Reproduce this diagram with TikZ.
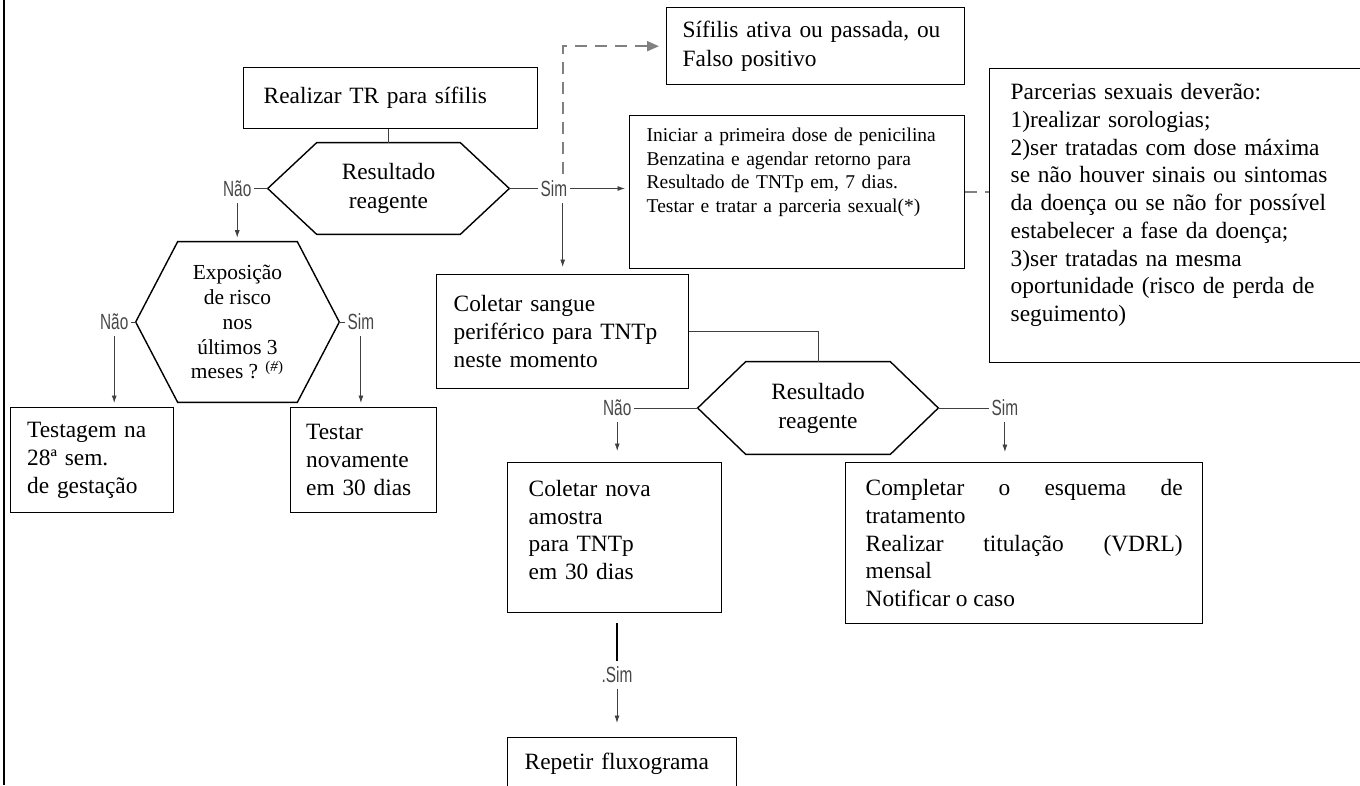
\documentclass[tikz,border=0pt]{standalone}
\usepackage{fontspec}
\setmainfont{Liberation Serif}
\newfontfamily\lblfont[FakeStretch=0.7]{Liberation Sans}
\usetikzlibrary{positioning,arrows.meta}
\hyphenpenalty=10000
\tolerance=10000
\tikzset{
	caixa/.style = {
		shape=rectangle,
		draw,
		line width=0.8pt,
		anchor=north west,
		align=left,
		inner ysep=0pt,
		font=\fontsize{13.3}{15.8}\selectfont
	},
	hexa/.style = {
		align=center,
		inner sep=0pt,
		font=\fontsize{13.3}{16.5}\selectfont
	},
	rotulo/.style = {
		font=\lblfont\fontsize{12.5}{12.5}\selectfont,
		text=black!72,
		inner xsep=0.04cm,
		inner ysep=0.12cm
	},
	liga/.style = {draw=black!75, line width=0.5pt},
	seta/.style = {liga, -{Latex[length=0.15cm,width=0.1cm]}, shorten >=0.08cm},
	tracejado/.style = {draw=gray, line width=1.1pt, dash pattern=on 0.24cm off 0.16cm}
}

\begin{document}
\begin{tikzpicture}[x=0.02cm, y=-0.02cm]
	\useasboundingbox (0,0) rectangle (1360,785);
	\draw[line width=1.4pt] (4,0) -- (4,785);

	% caixas de texto
	\node[caixa, text width=5.32cm, inner xsep=0.32cm, minimum height=1.54cm,
		font=\fontsize{13.3}{16.4}\selectfont] (sif) at (666,7) {
		Sífilis ativa ou passada, ou\\
		Falso positivo
	};
	\node[caixa, text width=5.08cm, inner xsep=0.4cm, minimum height=1.22cm] (realizar) at (243,67) {
		Realizar TR para sífilis
	};
	\node[caixa, text width=6.02cm, inner xsep=0.34cm, minimum height=3.06cm,
		font=\fontsize{11.1}{13.4}\selectfont] (iniciar) at (629,115) {
		Iniciar a primeira dose de penicilina\\
		Benzatina e agendar retorno para\\
		Resultado de TNTp em, 7 dias.\\
		Testar e tratar a parceria sexual(*)\rule[-25pt]{0pt}{25pt}
	};
	\node[caixa, text width=6.78cm, inner xsep=0.42cm, minimum height=5.88cm] (parcerias) at (989,68) {
		Parcerias sexuais deverão:\\
		1)realizar sorologias;\\
		2)ser tratadas com dose máxima\\
		se não houver sinais ou sintomas\\
		da doença ou se não for possível\\
		estabelecer a fase da doença;\\
		3)ser tratadas na mesma\\
		oportunidade (risco de perda de\\
		seguimento)\rule[-15pt]{0pt}{15pt}
	};
	\node[caixa, text width=4.36cm, inner xsep=0.34cm, minimum height=2.28cm] (colsang) at (436,274) {
		Coletar sangue\\
		periférico para TNTp\\
		neste momento
	};
	\node[caixa, text width=2.6cm, inner xsep=0.33cm, minimum height=2.1cm] (testagem) at (10,407) {
		Testagem na\\
		28ª sem.\\
		de gestação
	};
	\node[caixa, text width=2.3cm, inner xsep=0.31cm, minimum height=2.1cm] (testar) at (290,407) {
		Testar\\
		novamente\\
		em 30 dias
	};
	\node[caixa, text width=3.44cm, inner xsep=0.42cm, minimum height=3.0cm] (colnova) at (507,462) {
		Coletar nova\\
		amostra\\
		para TNTp\\
		em 30 dias\rule[-9pt]{0pt}{9pt}
	};
	\node[caixa, align=justify, text width=6.34cm, inner xsep=0.4cm, minimum height=3.22cm] (completar) at (845,462) {
		Completar o esquema de\linebreak tratamento\\
		Realizar titulação (VDRL)\linebreak mensal\\
		Notificar o caso
	};
	\node[caixa, text width=3.9cm, inner xsep=0.34cm, minimum height=1.04cm] (repetir) at (507,737) {
		Repetir fluxograma
	};

	% decisoes
	\node[hexa, minimum width=4.82cm, minimum height=1.82cm] (h1) at (388.5,188.5) {Resultado\\reagente};
	\node[hexa, minimum width=4.06cm, minimum height=3.2cm,
		font=\fontsize{12.2}{14.2}\selectfont] (h3) at (237.5,322) {
		Exposição\\de risco\\nos\\últimos 3\\meses ? \textsuperscript{(\textit{\#})}};
	\node[hexa, minimum width=4.8cm, minimum height=1.84cm] (h2) at (818,408) {Resultado\\reagente};
	\foreach \h/\d in {h1/49, h3/42, h2/48}
		\draw[line width=0.8pt] (\h.west) -- ([shift={(\d,0)}]\h.north west)
			-- ([shift={(-\d,0)}]\h.north east) -- (\h.east)
			-- ([shift={(-\d,0)}]\h.south east) -- ([shift={(\d,0)}]\h.south west) -- cycle;

	% rotulos
	\node[rotulo, left=0.28cm of h1] (nao1) {Não};
	\node[rotulo, right=0.58cm of h1] (sim1) {Sim};
	\node[rotulo, left=0.1cm of h3] (nao3) {Não};
	\node[rotulo, right=0.12cm of h3] (sim3) {Sim};
	\node[rotulo, left=1.28cm of h2] (nao2) {Não};
	\node[rotulo, right=1.02cm of h2] (sim2) {Sim};
	\node[rotulo] (sim4) at (617,675) {.Sim};

	% ligacoes
	\draw[liga] (realizar.south -| h1.north) -- (h1.north);
	\draw[liga] (h1.west) -- (nao1.east);
	\draw[liga] (h1.east) -- (sim1.west);
	\draw[seta] (nao1.south) -- (nao1.south |- h3.north);
	\draw[seta] (sim1.east) -- (sim1.east -| iniciar.west);
	\draw[seta, shorten >=0.14cm] (sim1.south -| colsang.north) -- (colsang.north);
	\draw[tracejado, -{Triangle[length=0.24cm,width=0.2cm]}, shorten >=0.14cm]
		(sim1.north -| colsang.north) |- (sif.west);
	\draw[tracejado, line width=0.8pt] (iniciar.east) -- (iniciar.east -| parcerias.west);
	\draw[liga] (h3.west) -- (nao3.east);
	\draw[liga] (h3.east) -- (sim3.west);
	\draw[seta] (nao3.south) -- (nao3.south |- testagem.north);
	\draw[seta] (sim3.south) -- (sim3.south |- testar.north);
	\draw[liga] (colsang.east) -| (h2.north);
	\draw[liga] (h2.west) -- (nao2.east);
	\draw[liga] (h2.east) -- (sim2.west);
	\draw[seta, shorten >=0.22cm] (nao2.south) -- (nao2.south |- colnova.north);
	\draw[seta, shorten >=0.2cm] (sim2.south) -- (sim2.south |- completar.north);
	\draw[line width=1pt, shorten <=0.2cm] (sim4.north |- colnova.south) -- (sim4.north);
	\draw[seta, shorten >=0.28cm] (sim4.south) -- (sim4.south |- repetir.north);
\end{tikzpicture}
\end{document}
